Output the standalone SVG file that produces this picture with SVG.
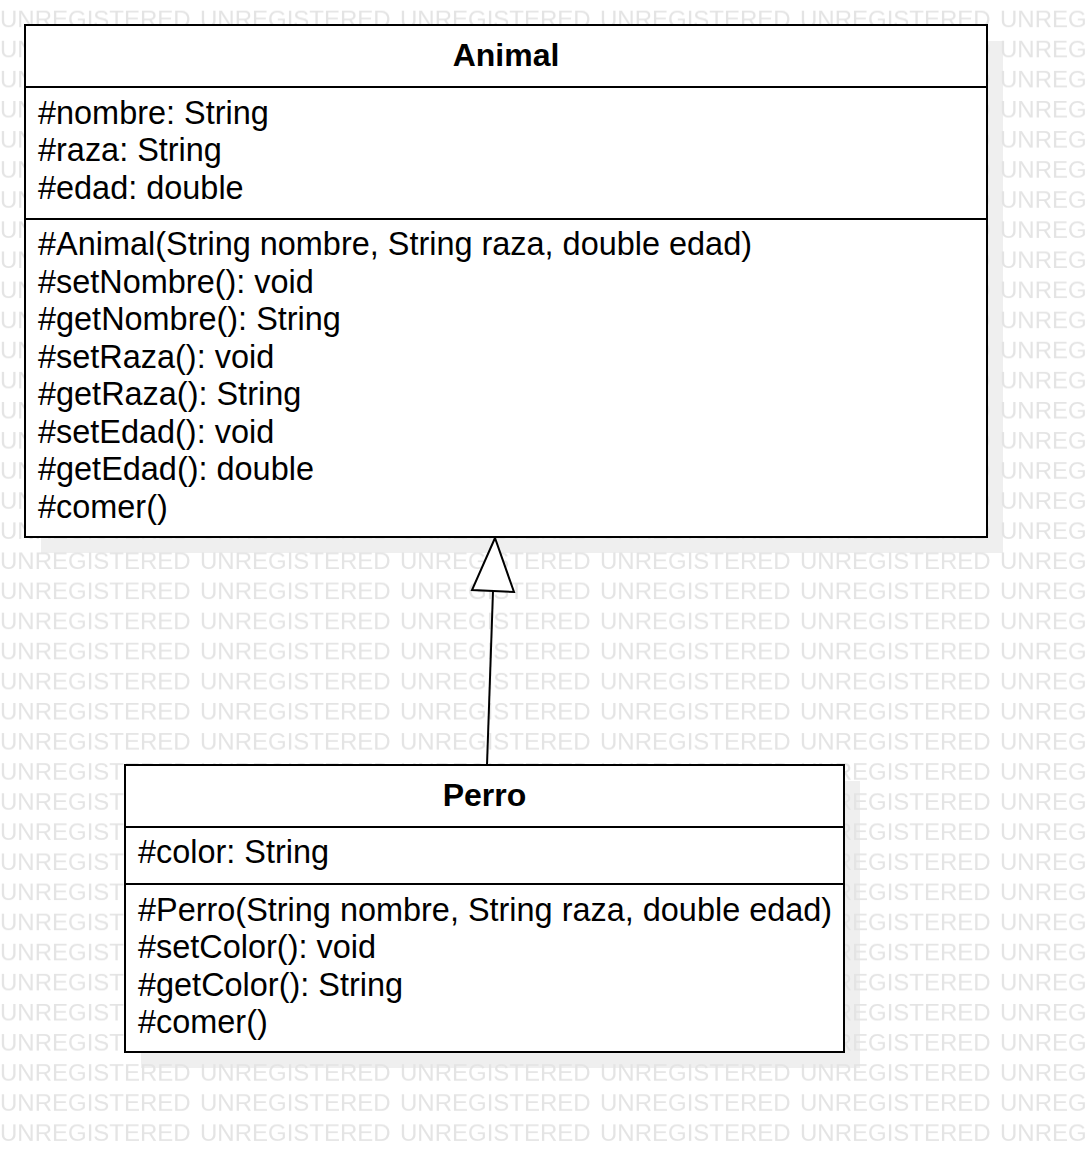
<svg xmlns="http://www.w3.org/2000/svg" width="1085" height="1152" viewBox="0 0 1085 1152">
<style>
.box{fill:#ffffff;stroke:#000000;stroke-width:2}
.shadow{fill:#efefef}
.div{stroke:#000000;stroke-width:2}
.t{font-family:"Liberation Sans",Arial,sans-serif;font-size:32.45px;fill:#000000}
.title{font-family:"Liberation Sans",Arial,sans-serif;font-size:32px;font-weight:bold;fill:#000000;text-anchor:middle}
.wm{font-family:"Liberation Sans",Arial,sans-serif;font-size:24px;fill:#e4e4e4}
.edge{stroke:#000000;stroke-width:2;fill:none}
.head{fill:#ffffff;stroke:#000000;stroke-width:2;stroke-linejoin:miter}
</style>
<defs>
<pattern id="wmp" x="0" y="0" width="200" height="30.1" patternUnits="userSpaceOnUse">
<text class="wm" x="0" y="27">UNREGISTERED</text>
</pattern>
</defs>
<rect x="0" y="0" width="1085" height="1152" fill="#ffffff"/>
<rect class="shadow" x="41" y="41" width="962" height="512"/>
<rect class="shadow" x="141" y="781" width="719" height="287"/>
<rect x="0" y="0" width="1085" height="1152" fill="url(#wmp)"/>
<g id="connectors">
<line class="edge" x1="487" y1="765" x2="493" y2="591"/>
<polygon class="head" points="495,538 472,590 514,592"/>
</g>
<g id="Animal">
<rect class="box" x="25" y="25" width="962" height="512"/>
<line class="div" x1="25" y1="87" x2="987" y2="87"/>
<line class="div" x1="25" y1="219" x2="987" y2="219"/>
<text class="title" x="506" y="66">Animal</text>
<text class="t" x="38" y="123.5">#nombre: String</text>
<text class="t" x="38" y="161">#raza: String</text>
<text class="t" x="38" y="198.5">#edad: double</text>
<text class="t" x="38" y="255">#Animal(String nombre, String raza, double edad)</text>
<text class="t" x="38" y="292.5">#setNombre(): void</text>
<text class="t" x="38" y="330">#getNombre(): String</text>
<text class="t" x="38" y="367.5">#setRaza(): void</text>
<text class="t" x="38" y="405">#getRaza(): String</text>
<text class="t" x="38" y="442.5">#setEdad(): void</text>
<text class="t" x="38" y="480">#getEdad(): double</text>
<text class="t" x="38" y="517.5">#comer()</text>
</g>
<g id="Perro">
<rect class="box" x="125" y="765" width="719" height="287"/>
<line class="div" x1="125" y1="827" x2="844" y2="827"/>
<line class="div" x1="125" y1="884" x2="844" y2="884"/>
<text class="title" x="484.5" y="806">Perro</text>
<text class="t" x="138" y="863">#color: String</text>
<text class="t" x="138" y="920.5">#Perro(String nombre, String raza, double edad)</text>
<text class="t" x="138" y="958">#setColor(): void</text>
<text class="t" x="138" y="995.5">#getColor(): String</text>
<text class="t" x="138" y="1033">#comer()</text>
</g>
</svg>
